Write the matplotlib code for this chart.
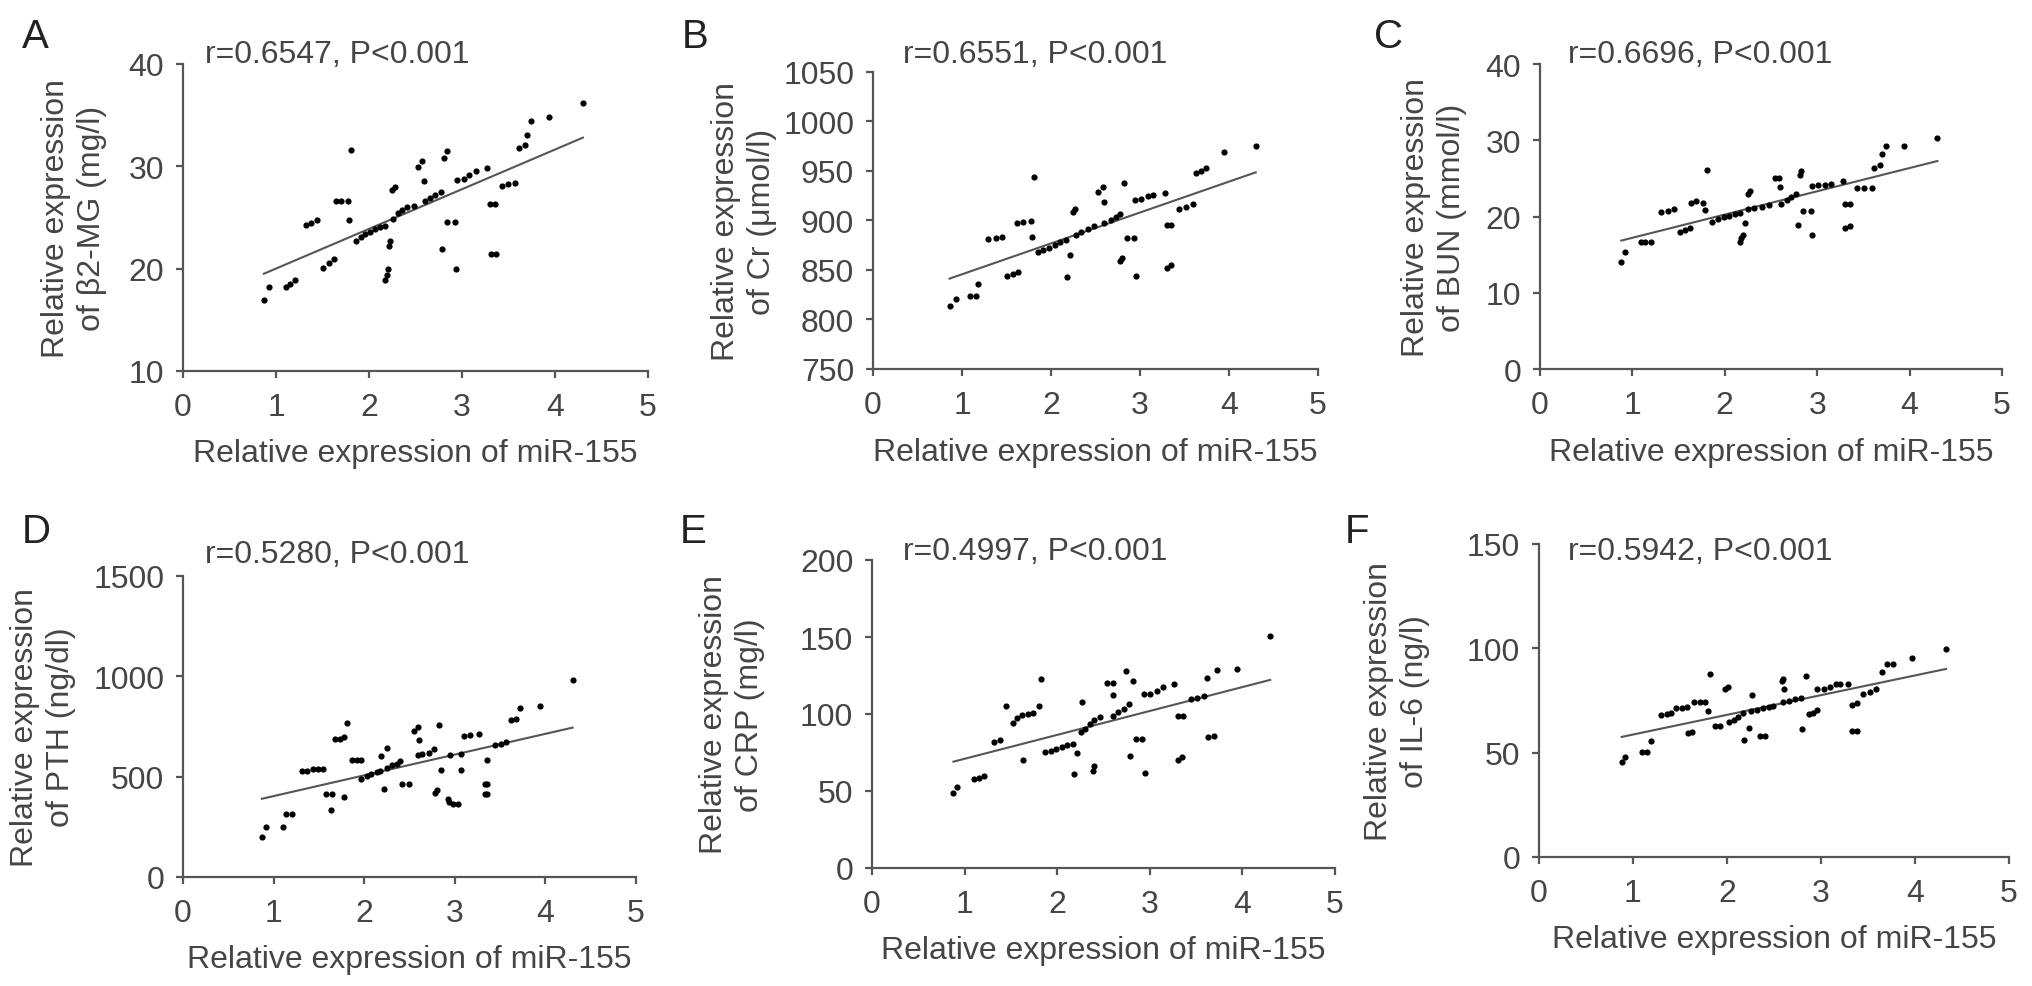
import numpy as np
import matplotlib
matplotlib.use("Agg")
import matplotlib.pyplot as plt

plt.rcParams['font.family'] = ['Liberation Sans', 'DejaVu Sans']

# miR-155 (x) and marker (y) values
mir_a = [0.87, 0.93, 1.11, 1.15, 1.20, 1.32, 1.38, 1.44, 1.51, 1.57, 1.62, 1.64, 1.70, 1.77, 1.79, 1.81,
         1.86, 1.91, 1.96, 2.01, 2.06, 2.12, 2.17, 2.17, 2.19, 2.20, 2.22, 2.23, 2.25, 2.28, 2.26, 2.31,
         2.36, 2.41, 2.48, 2.53, 2.57, 2.59, 2.60, 2.66, 2.71, 2.77, 2.79, 2.81, 2.84, 2.84, 2.93, 2.94,
         2.95, 3.02, 3.08, 3.15, 3.27, 3.30, 3.36, 3.31, 3.37, 3.43, 3.49, 3.57, 3.61, 3.68, 3.70, 3.74,
         3.94, 4.30]
b2mg = [16.9, 18.2, 18.2, 18.5, 18.9, 24.3, 24.5, 24.8, 20.1, 20.6, 20.9, 26.6, 26.6, 26.6, 24.8, 31.6,
        22.7, 23.1, 23.4, 23.6, 23.9, 24.1, 24.2, 18.9, 19.4, 20.0, 22.2, 22.7, 27.7, 28.0, 24.9, 25.4,
        25.7, 26.0, 26.1, 29.9, 30.5, 28.6, 26.6, 26.9, 27.2, 27.5, 21.9, 30.8, 31.5, 24.6, 24.6, 20.0,
        28.7, 28.8, 29.2, 29.5, 29.8, 26.3, 26.3, 21.4, 21.4, 28.1, 28.3, 28.4, 31.8, 32.1, 33.1, 34.4,
        34.8, 36.2]

mir_b = [0.86, 0.93, 1.09, 1.16, 1.18, 1.29, 1.38, 1.45, 1.51, 1.57, 1.63, 1.62, 1.69, 1.77, 1.79, 1.81,
         1.85, 1.91, 1.98, 2.04, 2.10, 2.17, 2.21, 2.18, 2.25, 2.27, 2.28, 2.34, 2.42, 2.48, 2.53, 2.58,
         2.60, 2.60, 2.67, 2.73, 2.77, 2.82, 2.78, 2.80, 2.85, 2.93, 2.95, 2.94, 3.01, 3.09, 3.15, 3.28,
         3.30, 3.35, 3.30, 3.35, 3.44, 3.52, 3.59, 3.63, 3.69, 3.74, 3.94, 4.30]
cr = [814, 821, 824, 824, 836, 881, 882, 883, 844, 846, 848, 897, 898, 899, 883, 944,
      868, 870, 872, 875, 878, 880, 865, 843, 909, 912, 885, 888, 891, 894, 929, 934,
      919, 897, 900, 904, 907, 938, 859, 862, 882, 882, 844, 921, 922, 925, 926, 928,
      895, 895, 852, 855, 912, 914, 917, 948, 950, 953, 969, 975]

mir_c = [0.88, 0.92, 1.09, 1.14, 1.20, 1.31, 1.38, 1.45, 1.51, 1.57, 1.62, 1.63, 1.69, 1.76, 1.79, 1.81,
         1.86, 1.93, 1.99, 2.05, 2.11, 2.16, 2.22, 2.16, 2.18, 2.20, 2.25, 2.27, 2.25, 2.32, 2.40, 2.48,
         2.54, 2.59, 2.60, 2.61, 2.67, 2.72, 2.77, 2.81, 2.83, 2.79, 2.85, 2.93, 2.94, 2.94, 3.01, 3.08,
         3.15, 3.28, 3.30, 3.35, 3.30, 3.35, 3.43, 3.51, 3.59, 3.61, 3.68, 3.70, 3.74, 3.94, 4.30]
bun = [14.0, 15.3, 16.7, 16.7, 16.7, 20.6, 20.7, 21.0, 18.0, 18.2, 18.5, 21.8, 22.0, 21.8, 20.8, 26.1,
       19.3, 19.7, 19.9, 20.1, 20.3, 20.4, 19.2, 16.7, 17.2, 17.6, 23.0, 23.4, 21.0, 21.1, 21.3, 21.5,
       25.0, 25.0, 23.9, 21.7, 22.2, 22.6, 23.0, 25.4, 26.0, 18.9, 20.7, 20.7, 17.6, 24.0, 24.1, 24.1,
       24.3, 24.7, 21.6, 21.6, 18.5, 18.8, 23.7, 23.8, 23.8, 26.3, 26.7, 28.2, 29.2, 29.2, 30.3]

mir_d = [0.87, 0.92, 1.10, 1.14, 1.20, 1.31, 1.37, 1.44, 1.49, 1.55, 1.58, 1.64, 1.63, 1.68, 1.73, 1.78,
         1.78, 1.81, 1.86, 1.92, 1.97, 1.97, 2.03, 2.08, 2.14, 2.17, 2.18, 2.22, 2.25, 2.25, 2.31, 2.36,
         2.40, 2.42, 2.49, 2.55, 2.59, 2.60, 2.59, 2.64, 2.71, 2.77, 2.78, 2.80, 2.83, 2.85, 2.92, 2.94,
         2.98, 3.04, 2.95, 3.07, 3.07, 3.10, 3.17, 3.27, 3.36, 3.33, 3.36, 3.33, 3.36, 3.44, 3.51, 3.57,
         3.62, 3.68, 3.72, 3.94, 4.30]
pth = [199, 249, 249, 312, 316, 527, 528, 537, 538, 537, 412, 412, 332, 686, 689, 698,
       399, 769, 585, 585, 585, 490, 503, 515, 522, 527, 601, 437, 644, 545, 556, 565,
       576, 462, 462, 727, 747, 681, 606, 611, 618, 636, 419, 432, 756, 532, 390, 374,
       362, 362, 606, 611, 532, 703, 706, 714, 581, 465, 465, 412, 412, 656, 664, 673,
       781, 786, 842, 852, 980]

mir_e = [0.88, 0.92, 1.10, 1.16, 1.21, 1.32, 1.38, 1.45, 1.52, 1.57, 1.62, 1.63, 1.69, 1.74, 1.80, 1.82,
         1.87, 1.93, 1.99, 2.05, 2.11, 2.17, 2.21, 2.18, 2.27, 2.39, 2.40, 2.26, 2.30, 2.35, 2.40, 2.46,
         2.54, 2.60, 2.60, 2.60, 2.66, 2.72, 2.77, 2.74, 2.82, 2.79, 2.85, 2.92, 2.95, 2.94, 3.00, 3.08,
         3.14, 3.26, 3.30, 3.36, 3.30, 3.35, 3.44, 3.51, 3.58, 3.62, 3.63, 3.69, 3.73, 3.94, 4.30]
crp = [48.5, 52.4, 57.8, 58.4, 59.5, 81.6, 83.1, 105.4, 94.2, 97.4, 99.6, 70.1, 100.0, 100.6, 105.4, 122.7,
       75.1, 76.2, 77.3, 78.8, 79.9, 80.5, 74.7, 61.0, 107.6, 63.2, 66.5, 88.1, 90.3, 93.5, 96.1, 97.8,
       119.9, 119.9, 112.6, 98.9, 101.1, 103.2, 106.5, 128.1, 121.6, 72.9, 83.8, 83.8, 61.7, 113.0, 113.0, 115.0,
       117.7, 119.5, 98.9, 98.9, 70.1, 71.9, 109.7, 110.4, 111.7, 123.4, 84.8, 85.5, 128.8, 129.2, 150.9]

mir_f = [0.88, 0.92, 1.10, 1.15, 1.19, 1.30, 1.36, 1.40, 1.46, 1.52, 1.57, 1.59, 1.63, 1.65, 1.71, 1.77,
         1.80, 1.82, 1.87, 1.93, 1.98, 2.01, 2.02, 2.07, 2.12, 2.17, 2.18, 2.23, 2.27, 2.25, 2.32, 2.38,
         2.45, 2.49, 2.35, 2.40, 2.58, 2.60, 2.61, 2.60, 2.66, 2.72, 2.79, 2.84, 2.80, 2.87, 2.91, 2.96,
         2.96, 3.03, 3.10, 3.16, 3.20, 3.29, 3.33, 3.38, 3.33, 3.38, 3.45, 3.52, 3.59, 3.65, 3.70, 3.77,
         3.97, 4.33]
il6 = [45.7, 47.8, 50.5, 50.5, 55.7, 68.2, 68.3, 68.8, 71.2, 71.5, 71.7, 59.2, 60.0, 74.5, 74.5, 74.5,
       70.1, 87.6, 62.6, 62.6, 80.7, 81.7, 64.8, 65.8, 66.9, 68.9, 56.2, 61.6, 77.7, 70.1, 70.5, 71.2,
       72.0, 72.5, 57.8, 57.8, 84.4, 85.2, 80.4, 74.4, 74.8, 75.6, 76.4, 86.8, 61.3, 68.5, 68.9, 70.5,
       80.4, 80.7, 81.7, 82.8, 82.8, 82.8, 72.9, 73.7, 60.5, 60.5, 78.3, 79.3, 80.7, 88.7, 92.4, 92.7,
       95.2, 99.5]

letters = ["A", "B", "C", "D", "E", "F"]
ylabels = ["Relative expression\nof \u03b22-MG (mg/l)", "Relative expression\nof Cr (\u03bcmol/l)",
           "Relative expression\nof BUN (mmol/l)", "Relative expression\nof PTH (ng/dl)",
           "Relative expression\nof CRP (mg/l)", "Relative expression\nof IL-6 (ng/l)"]
stats = ["r=0.6547, P<0.001", "r=0.6551, P<0.001", "r=0.6696, P<0.001",
         "r=0.5280, P<0.001", "r=0.4997, P<0.001", "r=0.5942, P<0.001"]
ylims = [(10, 40), (750, 1050), (0, 40), (0, 1500), (0, 200), (0, 150)]
ysteps = [10, 50, 10, 500, 50, 50]
xs = [mir_a, mir_b, mir_c, mir_d, mir_e, mir_f]
ys = [b2mg, cr, bun, pth, crp, il6]

W, H = 2032, 987
# axes boxes in pixels: left, top, right, bottom
boxes = [(183, 65, 648, 372), (873, 73, 1318, 370), (1540, 65, 2002, 370),
         (183, 577, 636, 878), (872, 561, 1335, 869), (1539, 545, 2009, 858)]
letter_pos = [(22, 48), (682, 48), (1374, 48), (22, 543), (680, 543), (1345, 543)]
stat_pos = [(205, 63), (903, 63), (1568, 63), (205, 563), (903, 560), (1568, 560)]
ylabel_right = [107, 777, 1467, 76, 765, 1430]

TXT = "#454545"
FS = 23

fig = plt.figure(figsize=(W / 100, H / 100), dpi=100)
fig.patch.set_facecolor("white")

for i in range(6):
    l, t, r, b = boxes[i]
    ax = fig.add_axes([l / W, 1 - b / H, (r - l) / W, (b - t) / H])
    x = np.array(xs[i])
    y = np.array(ys[i])
    ax.scatter(x, y, s=20, color="black", linewidths=0, zorder=3)
    # least-squares line over the observed range
    k, c = np.polyfit(x, y, 1)
    xx = np.array([x.min(), x.max()])
    ax.plot(xx, k * xx + c, color="#555555", lw=1.5, zorder=2)

    y0, y1 = ylims[i]
    ax.set_xlim(0, 5)
    ax.set_ylim(y0, y1)
    ax.set_xticks(range(0, 6))
    ax.set_yticks(np.arange(y0, y1 + 1, ysteps[i]))
    for s in ["top", "right"]:
        ax.spines[s].set_visible(False)
    for s in ["left", "bottom"]:
        ax.spines[s].set_color("#555555")
        ax.spines[s].set_linewidth(1.6)
    ax.tick_params(direction="out", length=5, width=1.6, color="#555555",
                   labelsize=FS, labelcolor=TXT)
    ax.tick_params(axis="x", pad=10)
    ax.tick_params(axis="y", pad=8.5)

    ax.set_xlabel("Relative expression of miR-155", fontsize=FS, color=TXT, labelpad=12)
    ax.set_ylabel(ylabels[i], fontsize=FS, color=TXT, linespacing=1.25)
    ax.yaxis.set_label_coords((ylabel_right[i] - l) / (r - l), 0.5)

    fig.text(stat_pos[i][0] / W, 1 - stat_pos[i][1] / H, stats[i], fontsize=FS,
             color=TXT, ha="left", va="baseline")
    fig.text(letter_pos[i][0] / W, 1 - letter_pos[i][1] / H, letters[i], fontsize=29,
             color="#222222", ha="left", va="baseline")

fig.savefig("out.png", dpi=100, facecolor="white")
